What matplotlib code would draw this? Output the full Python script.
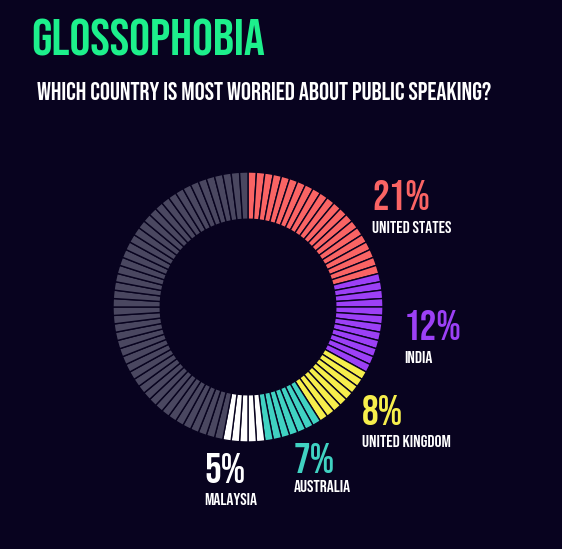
import matplotlib
matplotlib.use("Agg")
import matplotlib.pyplot as plt

# data
countries = ["UNITED STATES", "INDIA", "UNITED KINGDOM", "AUSTRALIA", "MALAYSIA"]
shares = [21, 12, 8, 7, 5]
colors = ["#fa6464", "#9c40f6", "#f6ee4c", "#40d2c2", "#ffffff"]
rest_color = "#4a4760"
bg = "#08031f"

W, H = 562, 549
fig = plt.figure(figsize=(W / 100, H / 100), dpi=100, facecolor=bg)
fam = ["Bebas Neue", "DejaVu Sans"]


def px(x, y):
    # pixel (from top-left) -> figure fraction
    return x / W, 1 - y / H


# donut, one wedge per percent
cx, cy, r = 248, 307, 135
ax = fig.add_axes([(cx - r) / W, (H - cy - r) / H, 2 * r / W, 2 * r / H])
ax.set_facecolor(bg)
seg_colors = []
for s, c in zip(shares, colors):
    seg_colors += [c] * s
seg_colors += [rest_color] * (100 - sum(shares))
ax.pie([1] * 100, colors=seg_colors, startangle=90, counterclock=False, radius=1,
       wedgeprops=dict(width=0.35, edgecolor=bg, linewidth=1.0))
ax.set_xlim(-1, 1)
ax.set_ylim(-1, 1)
ax.axis("off")

# titles
fig.text(*px(31, 55), "GLOSSOPHOBIA", color="#1df08c", fontsize=37.5, family=fam,
         va="baseline", ha="left")
fig.text(*px(37, 100), "WHICH COUNTRY IS MOST WORRIED ABOUT PUBLIC SPEAKING?", color="white",
         fontsize=18, family=fam, va="baseline", ha="left")

# labels: (x, baseline of pct, baseline of name)
label_pos = [(372, 210, 233), (404, 340, 363), (362, 425, 447), (294, 473, 492), (204, 483, 505)]
for (x, yp, yn), name, s, c in zip(label_pos, countries, shares, colors):
    fig.text(*px(x, yp), f"{s}%", color=c, fontsize=30, family=fam,
             va="baseline", ha="left")
    fig.text(*px(x, yn), name, color="white", fontsize=12.5, family=fam,
             va="baseline", ha="left")

fig.savefig("out.png", dpi=100, facecolor=bg)
